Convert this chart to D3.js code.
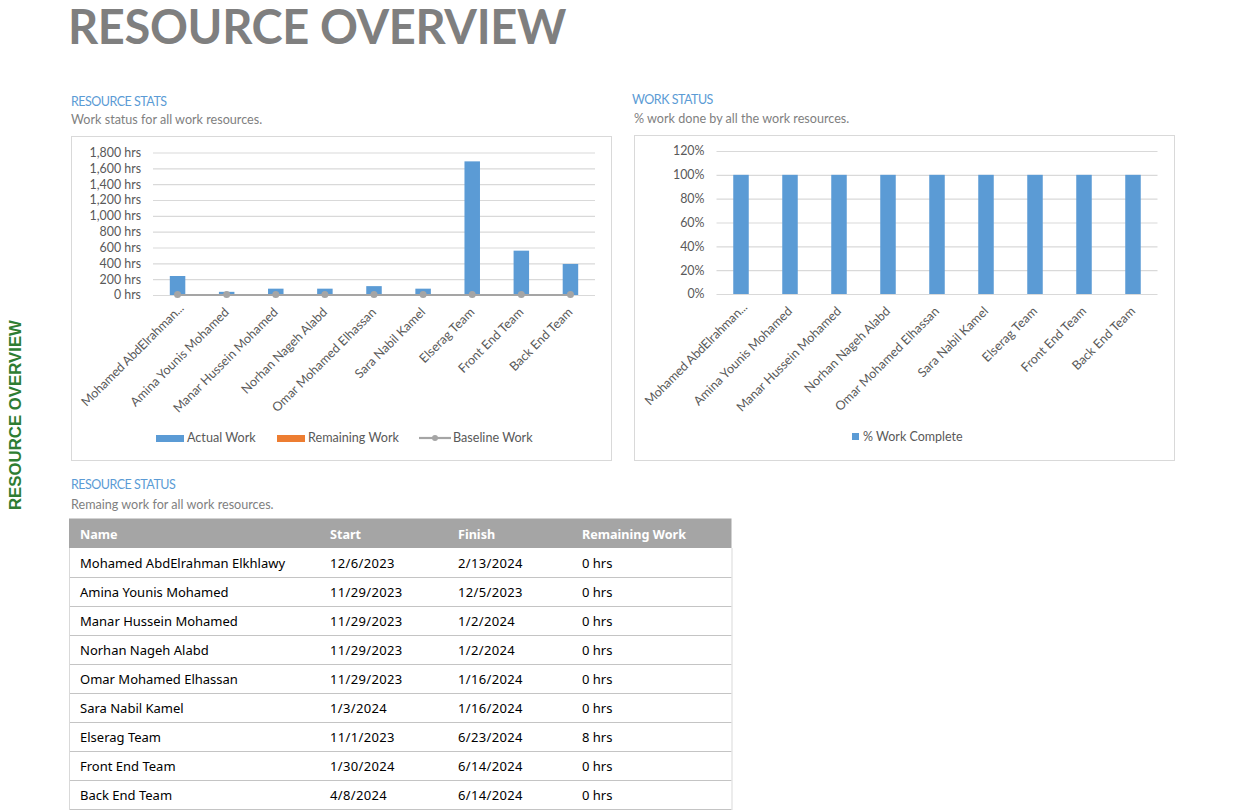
<!DOCTYPE html>
<html>
<head>
<meta charset="utf-8">
<script src="https://cdn.jsdelivr.net/npm/d3@7"></script>
<style>
  html, body { margin: 0; padding: 0; background: #fff; overflow: hidden; }
  svg { display: block; }
</style>
</head>
<body>
<div class="app"></div>
<script>
// Data
const chartNames = ['Mohamed AbdElrahman...', 'Amina Younis Mohamed', 'Manar Hussein Mohamed', 'Norhan Nageh Alabd',
  'Omar Mohamed Elhassan', 'Sara Nabil Kamel', 'Elserag Team', 'Front End Team', 'Back End Team'];
const actualWork = [240, 40, 80, 80, 112, 80, 1688, 560, 392];
const baselineWork = [0, 0, 0, 0, 0, 0, 0, 0, 0];
const percentComplete = [100, 100, 100, 100, 100, 100, 100, 100, 100];
const hourTicks = [0, 200, 400, 600, 800, 1000, 1200, 1400, 1600, 1800];
const percentTicks = [0, 20, 40, 60, 80, 100, 120];

const tableHead = ['Name', 'Start', 'Finish', 'Remaining Work'];
const tableNames = ['Mohamed AbdElrahman Elkhlawy', 'Amina Younis Mohamed', 'Manar Hussein Mohamed', 'Norhan Nageh Alabd',
  'Omar Mohamed Elhassan', 'Sara Nabil Kamel', 'Elserag Team', 'Front End Team', 'Back End Team'];
const tableStart = ['12/6/2023', '11/29/2023', '11/29/2023', '11/29/2023', '11/29/2023', '1/3/2024', '11/1/2023', '1/30/2024', '4/8/2024'];
const tableFinish = ['2/13/2024', '12/5/2023', '1/2/2024', '1/2/2024', '1/16/2024', '1/16/2024', '6/23/2024', '6/14/2024', '6/14/2024'];
const tableRemaining = ['0 hrs', '0 hrs', '0 hrs', '0 hrs', '0 hrs', '0 hrs', '8 hrs', '0 hrs', '0 hrs'];

const BLUE = '#5b9bd5';
const ORANGE = '#ed7d31';
const GREY = '#a5a5a5';
const GRID = '#d9d9d9';
const LABEL = '#595959';
const BODY_FONT = 'Lato, sans-serif';
const TABLE_FONT = '"Noto Sans", sans-serif';

const svg = d3.select('.app')
  .append('svg')
  .attr('width', 1238)
  .attr('height', 810)
  .attr('viewBox', [0, 0, 1238, 810]);

// Page titles
svg.append('text')
  .attr('x', 68).attr('y', 44)
  .attr('font-family', BODY_FONT)
  .attr('font-size', 47)
  .attr('font-weight', 700)
  .attr('letter-spacing', -0.35)
  .attr('fill', '#7f7f7f')
  .text('RESOURCE OVERVIEW');

svg.append('text')
  .attr('transform', 'translate(20.5,510) rotate(-90)')
  .attr('font-family', '"Liberation Sans", sans-serif')
  .attr('font-size', 16.8)
  .attr('font-weight', 700)
  .attr('fill', '#2e7d32')
  .text('RESOURCE OVERVIEW');

const heading = (x, y, title, subX, subY, sub) => {
  svg.append('text').attr('x', x).attr('y', y)
    .attr('font-family', BODY_FONT).attr('font-size', 12.5)
    .attr('letter-spacing', -0.5)
    .attr('fill', BLUE).text(title);
  svg.append('text').attr('x', subX).attr('y', subY)
    .attr('font-family', BODY_FONT).attr('font-size', 12.6)
    .attr('fill', '#7f7f7f').text(sub);
};
heading(71, 105.5, 'RESOURCE STATS', 71, 124, 'Work status for all work resources.');
heading(632, 103.5, 'WORK STATUS', 634, 123, '% work done by all the work resources.');
heading(71, 488.5, 'RESOURCE STATUS', 71, 509, 'Remaing work for all work resources.');

// Shared chart frame + axes
const drawFrame = (box, plot, yScale, ticks, fmt) => {
  svg.append('rect')
    .attr('x', box.x + 0.5).attr('y', box.y + 0.5)
    .attr('width', box.w).attr('height', box.h)
    .attr('fill', '#fff').attr('stroke', GRID);

  const x = d3.scaleBand().domain(chartNames).range([plot.left, plot.right]);

  const gGrid = svg.append('g')
    .attr('transform', `translate(${plot.left},0)`)
    .call(d3.axisLeft(yScale).tickValues(ticks).tickSize(-(plot.right - plot.left)).tickFormat(fmt).tickPadding(12));
  gGrid.select('.domain').remove();
  gGrid.selectAll('.tick line').attr('stroke', GRID).attr('stroke-width', 1.2);
  gGrid.selectAll('.tick text')
    .attr('font-family', BODY_FONT).attr('font-size', 12.4).attr('fill', LABEL);

  const gX = svg.append('g')
    .attr('transform', `translate(0,${yScale(0)})`)
    .call(d3.axisBottom(x).tickSize(0));
  gX.select('.domain').remove();
  // the truncated first label sits a little further up its diagonal
  gX.selectAll('.tick text')
    .attr('font-family', BODY_FONT).attr('font-size', 12.6).attr('fill', LABEL)
    .attr('text-anchor', 'end')
    .attr('dy', 0)
    .attr('y', 0)
    .attr('letter-spacing', (d, i) => i === 0 ? -0.15 : 0)
    .attr('transform', (d, i) => i === 0 ? 'translate(7,14) rotate(-45)' : 'translate(3,18) rotate(-45)');
  return x;
};

// Resource stats chart
const yHours = d3.scaleLinear().domain([0, 1800]).range([295, 152.5]);
const xStats = drawFrame({ x: 71, y: 136, w: 540, h: 324 }, { left: 153, right: 595 }, yHours, hourTicks, d => `${d3.format(',')(d)} hrs`);
const barW = 15.5;

svg.append('g').selectAll('rect')
  .data(chartNames)
  .join('rect')
  .attr('x', d => xStats(d) + xStats.bandwidth() / 2 - barW / 2)
  .attr('y', (d, i) => yHours(actualWork[i]))
  .attr('width', barW)
  .attr('height', (d, i) => yHours(0) - yHours(actualWork[i]))
  .attr('fill', BLUE);

const line = d3.line()
  .x((d, i) => xStats(chartNames[i]) + xStats.bandwidth() / 2)
  .y(d => yHours(d));
svg.append('path')
  .datum(baselineWork)
  .attr('d', line)
  .attr('fill', 'none')
  .attr('stroke', GREY)
  .attr('stroke-width', 2.2);
svg.append('g').selectAll('circle')
  .data(baselineWork)
  .join('circle')
  .attr('cx', (d, i) => xStats(chartNames[i]) + xStats.bandwidth() / 2)
  .attr('cy', d => yHours(d) - 0.5)
  .attr('r', 3.5)
  .attr('fill', GREY);

// Legend, stats chart
const gLegend = svg.append('g').attr('font-family', BODY_FONT).attr('font-size', 12.6).attr('fill', LABEL);
gLegend.append('rect').attr('x', 156).attr('y', 435).attr('width', 28).attr('height', 7).attr('fill', BLUE);
gLegend.append('text').attr('x', 187).attr('y', 442).text('Actual Work');
gLegend.append('rect').attr('x', 277).attr('y', 435).attr('width', 28).attr('height', 7).attr('fill', ORANGE);
gLegend.append('text').attr('x', 308).attr('y', 442).text('Remaining Work');
gLegend.append('line').attr('x1', 419).attr('x2', 451).attr('y1', 438).attr('y2', 438).attr('stroke', GREY).attr('stroke-width', 2.2);
gLegend.append('circle').attr('cx', 435).attr('cy', 438).attr('r', 3).attr('fill', GREY);
gLegend.append('text').attr('x', 453).attr('y', 442).text('Baseline Work');

// Work status chart
const yPercent = d3.scaleLinear().domain([0, 120]).range([294, 151]);
const xWork = drawFrame({ x: 634, y: 135, w: 540, h: 325 }, { left: 716.5, right: 1157.5 }, yPercent, percentTicks, d => `${d}%`);

svg.append('g').selectAll('rect')
  .data(chartNames)
  .join('rect')
  .attr('x', d => xWork(d) + xWork.bandwidth() / 2 - barW / 2)
  .attr('y', (d, i) => yPercent(percentComplete[i]))
  .attr('width', barW)
  .attr('height', (d, i) => yPercent(0) - yPercent(percentComplete[i]))
  .attr('fill', BLUE);

const gLegend2 = svg.append('g').attr('font-family', BODY_FONT).attr('font-size', 12.5).attr('fill', LABEL);
gLegend2.append('rect').attr('x', 852).attr('y', 433).attr('width', 7).attr('height', 7).attr('fill', BLUE);
gLegend2.append('text').attr('x', 863).attr('y', 441).text('% Work Complete');

// Table
const colX = [80, 330, 458, 582];
const colSpacing = [0, 0.35, 0.35, 0];
const rowH = 29;
const tableTop = 519;
const tableLeft = 69;
const tableRight = 731.5;

svg.append('rect')
  .attr('x', tableLeft).attr('y', tableTop - 0.5)
  .attr('width', tableRight - tableLeft).attr('height', rowH + 0.5)
  .attr('fill', GREY);

svg.append('g').selectAll('text')
  .data(tableHead)
  .join('text')
  .attr('x', (d, i) => colX[i])
  .attr('y', tableTop + 20)
  .attr('font-family', TABLE_FONT).attr('font-size', 12.6).attr('font-weight', 700)
  .attr('fill', '#fff')
  .text(d => d);

const rows = svg.append('g').selectAll('g')
  .data(tableNames)
  .join('g')
  .attr('transform', (d, i) => `translate(0,${tableTop + rowH * (i + 1)})`);

rows.append('line')
  .attr('x1', tableLeft).attr('x2', tableRight)
  .attr('y1', rowH + 0.5).attr('y2', rowH + 0.5)
  .attr('stroke', '#c4c4c4');

rows.each(function (d, i) {
  const cells = [tableNames[i], tableStart[i], tableFinish[i], tableRemaining[i]];
  d3.select(this).selectAll('text')
    .data(cells)
    .join('text')
    .attr('x', (c, j) => colX[j])
    .attr('y', 20)
    .attr('font-family', TABLE_FONT).attr('font-size', 13)
    .attr('letter-spacing', (c, j) => colSpacing[j])
    .attr('fill', '#000')
    .text(c => c);
});

// table side borders
[tableLeft, tableRight].forEach(x => {
  svg.append('line')
    .attr('x1', x + 0.5).attr('x2', x + 0.5)
    .attr('y1', tableTop + rowH).attr('y2', 810)
    .attr('stroke', GRID);
});
</script>
</body>
</html>
